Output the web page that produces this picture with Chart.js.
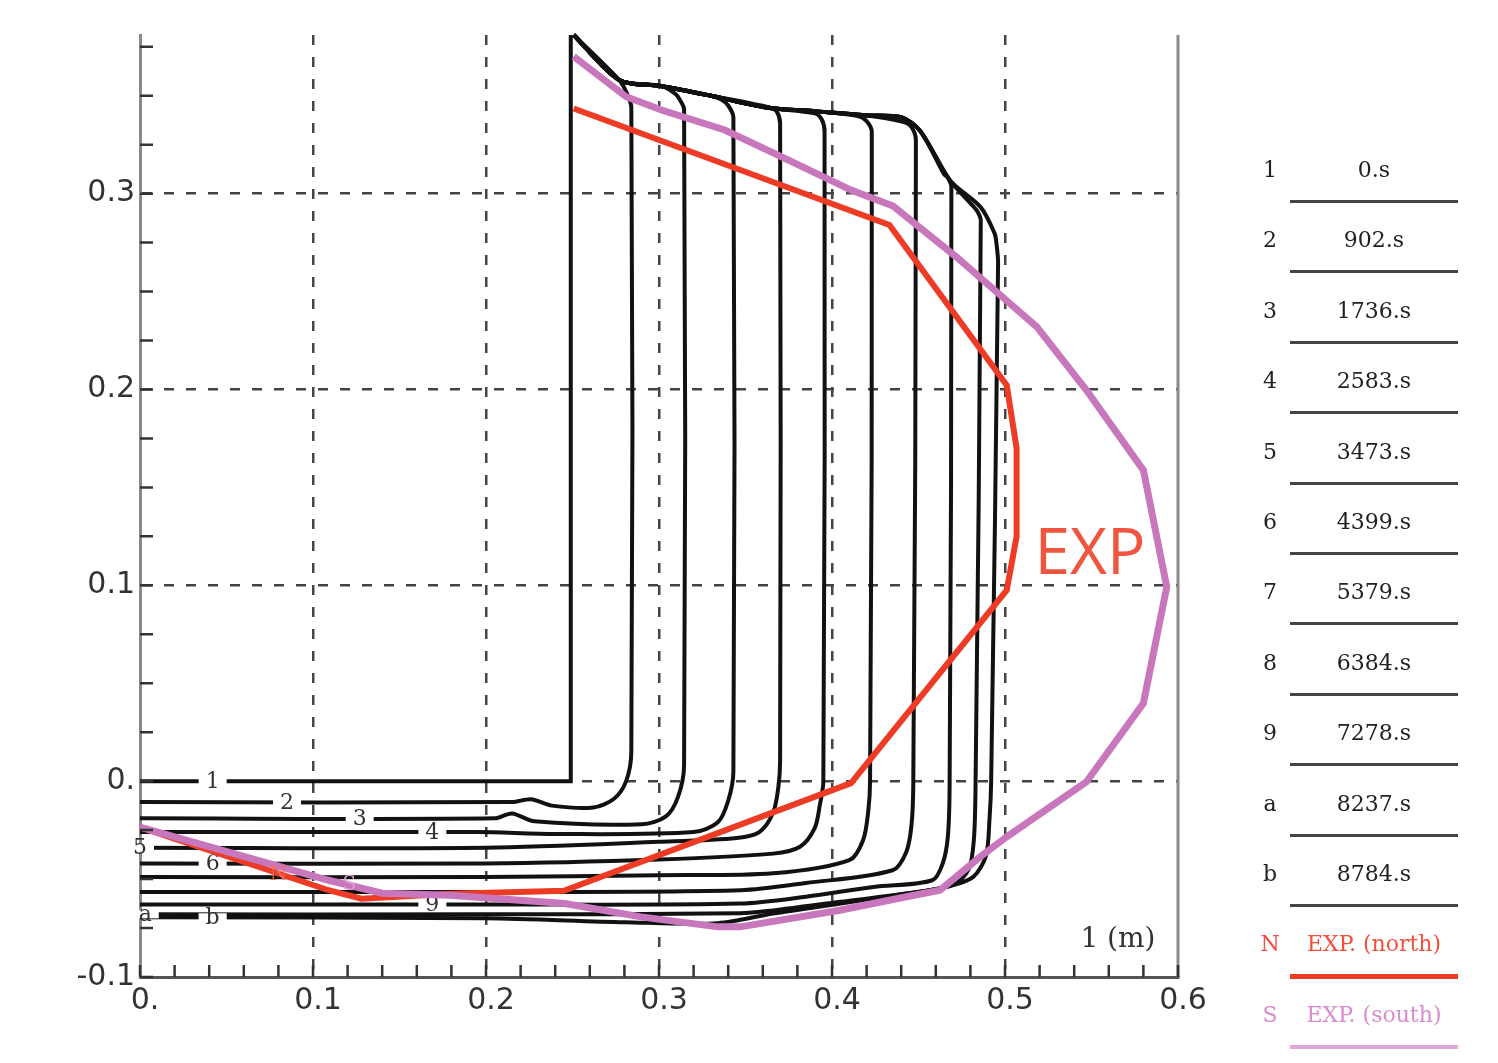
<!DOCTYPE html>
<html>
<head>
<meta charset="utf-8">
<script src="https://cdn.jsdelivr.net/npm/chart.js@4.4.0/dist/chart.umd.min.js"></script>
<style>
  html, body { margin: 0; padding: 0; background: #fff; }
  #wrap { position: relative; width: 1498px; height: 1063px; }
  .lg { position: absolute; font-family: "DejaVu Serif", serif; font-size: 22px; line-height: 24px; color: #222; white-space: nowrap; }
  .lg-id { width: 30px; text-align: center; }
  .lg-val { width: 168px; text-align: center; }
  .lg-line { position: absolute; height: 3px; background: #444; }
</style>
</head>
<body>
<div id="wrap">
  <canvas id="chart"></canvas>
  <div id="legend"></div>
</div>
<script>
// profile curves (x, y in m), one per time step
const curve1 = [[0,0],[0.249,0],[0.249,0.381]];
const curve2 = [[0,-0.0107],[0.215,-0.0107],[0.226,-0.0092],[0.238,-0.0125],[0.262,-0.0135],[0.274,-0.009],[0.281,0.0],[0.284,0.015],
  [0.284,0.344],[0.281,0.352],[0.277,0.358],[0.2507,0.381]];
const curve3 = [[0,-0.019],[0.205,-0.019],[0.215,-0.0165],[0.228,-0.0205],[0.29,-0.022],[0.304,-0.018],[0.311,-0.008],[0.3145,0.008],
  [0.3145,0.343],[0.312,0.348],[0.3095,0.351],[0.301,0.355],[0.277,0.358],[0.2507,0.381]];
const curve4 = [[0,-0.026],[0.195,-0.026],[0.24,-0.027],[0.32,-0.026],[0.334,-0.021],[0.340,-0.010],[0.343,0.005],
  [0.343,0.339],[0.340,0.345],[0.336,0.348],[0.330,0.350],[0.301,0.355],[0.277,0.358],[0.2507,0.381]];
const curve5 = [[0,-0.034],[0.2,-0.034],[0.3,-0.031],[0.345,-0.029],[0.358,-0.026],[0.366,-0.016],[0.369,-0.003],[0.370,0.01],
  [0.370,0.336],[0.368,0.342],[0.364,0.344],[0.330,0.350],[0.301,0.355],[0.277,0.358],[0.2507,0.381]];
const curve6 = [[0,-0.042],[0.2,-0.042],[0.3,-0.040],[0.366,-0.037],[0.3815,-0.0335],[0.390,-0.024],[0.393,-0.012],[0.395,0.0],
  [0.3957,0.332],[0.394,0.338],[0.39,0.341],[0.362,0.344],[0.330,0.350],[0.301,0.355],[0.277,0.358],[0.2507,0.381]];
const curve7 = [[0,-0.049],[0.2,-0.049],[0.3,-0.048],[0.366,-0.047],[0.41,-0.0403],[0.418,-0.030],[0.421,-0.015],[0.422,0.0],
  [0.423,0.3315],[0.420,0.337],[0.415,0.3396],[0.391,0.342],[0.362,0.344],[0.330,0.350],[0.301,0.355],[0.277,0.358],[0.2507,0.381]];
const curve8 = [[0,-0.0566],[0.2,-0.0566],[0.347,-0.0557],[0.385,-0.052],[0.435,-0.0455],[0.443,-0.036],[0.446,-0.022],[0.447,0.0],
  [0.4485,0.327],[0.446,0.334],[0.441,0.3367],[0.419,0.340],[0.391,0.342],[0.362,0.344],[0.330,0.350],[0.301,0.355],[0.277,0.358],[0.2507,0.381]];
const curve9 = [[0,-0.063],[0.2,-0.063],[0.347,-0.0625],[0.385,-0.059],[0.424,-0.054],[0.458,-0.0506],[0.464,-0.042],[0.467,-0.028],[0.468,0.0],
  [0.469,0.3035],[0.467,0.308],[0.4647,0.310],[0.451,0.332],[0.440,0.339],[0.419,0.340],[0.391,0.342],[0.362,0.344],[0.330,0.350],[0.301,0.355],[0.277,0.358],[0.2507,0.381]];
const curveA = [[0,-0.068],[0.2,-0.068],[0.347,-0.0675],[0.366,-0.066],[0.405,-0.0616],[0.443,-0.0574],[0.47,-0.053],[0.479,-0.045],[0.482,-0.03],[0.483,0.0],
  [0.486,0.2865],[0.484,0.291],[0.4819,0.2933],[0.468,0.307],[0.451,0.332],[0.440,0.339],[0.419,0.340],[0.391,0.342],[0.362,0.344],[0.330,0.350],[0.301,0.355],[0.277,0.358],[0.2507,0.381]];
const curveB = [[0,-0.0695],[0.2,-0.070],[0.28,-0.072],[0.334,-0.0725],[0.366,-0.0676],[0.405,-0.0625],[0.443,-0.0574],[0.466,-0.054],[0.4815,-0.049],[0.489,-0.038],[0.491,-0.02],[0.492,0.0],
  [0.496,0.2646],[0.495,0.275],[0.494,0.2797],[0.486,0.293],[0.468,0.307],[0.451,0.332],[0.440,0.339],[0.419,0.340],[0.391,0.342],[0.362,0.344],[0.330,0.350],[0.301,0.355],[0.277,0.358],[0.2507,0.381]];

// measured profiles
const expNorth = [[0,-0.0235],[0.109,-0.0557],[0.128,-0.060],[0.18,-0.0575],[0.245,-0.056],[0.411,-0.001],[0.501,0.0975],
  [0.5067,0.125],[0.5067,0.17],[0.501,0.2022],[0.4332,0.284],[0.2507,0.3435]];
const expSouth = [[0,-0.0235],[0.109,-0.0506],[0.14,-0.0572],[0.179,-0.0582],[0.2455,-0.0625],[0.2896,-0.0693],[0.334,-0.0744],[0.347,-0.0744],
  [0.4046,-0.0659],[0.443,-0.059],[0.4624,-0.0557],[0.4855,-0.0387],[0.501,-0.0284],[0.547,-0.0004],[0.58,0.0398],[0.5935,0.0992],
  [0.58,0.1588],[0.547,0.1997],[0.5184,0.232],[0.4717,0.2678],[0.4353,0.2937],[0.411,0.3018],[0.3703,0.319],[0.338,0.3325],
  [0.3014,0.3427],[0.281,0.3495],[0.2507,0.370]];

const curves = [curve1, curve2, curve3, curve4, curve5, curve6, curve7, curve8, curve9, curveA, curveB];
const curveIds = ["1","2","3","4","5","6","7","8","9","a","b"];
const timeLabels = ["0.s","902.s","1736.s","2583.s","3473.s","4399.s","5379.s","6384.s","7278.s","8237.s","8784.s"];
const curveLabelX = [0.042, 0.085, 0.127, 0.169, 0.0, 0.042, null, null, 0.169, 0.003, 0.042];
const expIds = ["N", "S"];
const expLabels = ["EXP. (north)", "EXP. (south)"];

const xTicks = [0, 0.1, 0.2, 0.3, 0.4, 0.5, 0.6];
const yTicks = [-0.1, 0, 0.1, 0.2, 0.3];

const RED = "#ee3b26";
const PINK = "#c877bd";

const fmt = v => (v === 0 ? "0." : v.toFixed(1));

const datasets = [
  { data: expSouth.map(([x, y]) => ({ x, y })), borderColor: PINK, borderWidth: 7, order: 0, tension: 0 },
  { data: expNorth.map(([x, y]) => ({ x, y })), borderColor: RED, borderWidth: 6, order: 0, tension: 0 },
  ...curves.map((c, i) => ({
    data: c.map(([x, y]) => ({ x, y })), borderColor: "#111", borderWidth: 4, order: 1,
    tension: i === 0 ? 0 : 0.3 // the initial profile has a sharp corner
  }))
].map(d => Object.assign(d, { showLine: true, pointRadius: 0, fill: false, clip: false }));

const decor = {
  id: "decor",
  beforeDatasetDraw(chart, args) {
    if (args.index !== 1) return; // red drawn right after the black curves
    const { ctx, scales: { x, y } } = chart;
    ctx.save();
    ctx.font = '22px "DejaVu Serif"';
    ctx.textAlign = "center";
    ctx.textBaseline = "middle";
    curves.forEach((pts, i) => {
      const lx = curveLabelX[i];
      if (lx === null) return;
      const px = x.getPixelForValue(lx), py = y.getPixelForValue(pts[0][1]);
      const w = ctx.measureText(curveIds[i]).width + 14;
      ctx.fillStyle = "#fff";
      ctx.fillRect(px - w / 2, py - 4, w, 8);
      ctx.fillStyle = "#333";
      ctx.fillText(curveIds[i], px, py + 1);
    });
    ctx.restore();
  },
  afterDraw(chart) {
    const { ctx, chartArea: a, scales: { x, y } } = chart;
    ctx.save();
    // right frame
    ctx.strokeStyle = "#8a8a8a";
    ctx.lineWidth = 3;
    ctx.beginPath();
    ctx.moveTo(a.right, a.top);
    ctx.lineTo(a.right, a.bottom);
    ctx.stroke();
    // small inner ticks
    ctx.strokeStyle = "#333";
    ctx.lineWidth = 2.5;
    ctx.beginPath();
    for (let i = 0; i <= 30; i++) {
      const px = x.getPixelForValue(i * 0.02);
      ctx.moveTo(px, a.bottom);
      ctx.lineTo(px, a.bottom - 12);
    }
    for (let i = 0; i <= 19; i++) {
      const py = y.getPixelForValue(-0.1 + i * 0.025);
      ctx.moveTo(a.left, py);
      ctx.lineTo(a.left + 13, py);
    }
    ctx.stroke();
    // texts
    ctx.fillStyle = "#f0553f";
    ctx.font = '64px "Open Sans"';
    ctx.textAlign = "left";
    ctx.textBaseline = "alphabetic";
    ctx.fillText("EXP", x.getPixelForValue(0.517), y.getPixelForValue(0.106));
    ctx.fillStyle = "#333";
    ctx.font = '28px "DejaVu Serif"';
    ctx.textAlign = "right";
    ctx.textBaseline = "middle";
    ctx.fillText("1 (m)", x.getPixelForValue(0.587), y.getPixelForValue(-0.081));
    ctx.font = '20px "DejaVu Serif"';
    ctx.textAlign = "center";
    ctx.fillStyle = "#f26a5a";
    ctx.fillText("N", x.getPixelForValue(0.080), y.getPixelForValue(-0.048));
    ctx.fillStyle = "#e29ad8";
    ctx.fillText("S", x.getPixelForValue(0.121), y.getPixelForValue(-0.053));
    ctx.restore();
  }
};

new Chart(document.getElementById("chart"), {
  type: "scatter",
  data: { datasets },
  options: {
    responsive: true,
    maintainAspectRatio: false,
    animation: false,
    layout: { padding: { top: 35, right: 320, left: 0, bottom: 0 } },
    plugins: { legend: { display: false }, tooltip: { enabled: false } },
    scales: {
      x: {
        type: "linear", min: 0, max: 0.6,
        afterBuildTicks: s => { s.ticks = xTicks.map(v => ({ value: v })); },
        afterFit: s => { s.height = 86; },
        grid: {
          color: c => (c.tick && (c.tick.value === 0 || c.tick.value === 0.6)) ? "rgba(0,0,0,0)" : "#444",
          lineWidth: 2.5, drawTicks: false
        },
        border: { color: "#555", width: 3, dash: [10, 12] },
        ticks: {
          callback: v => fmt(v), color: "#333", padding: 6, labelOffset: 5,
          font: { family: "DejaVu Sans", size: 30 }, maxRotation: 0, autoSkip: false
        }
      },
      y: {
        type: "linear", min: -0.1, max: 0.381,
        afterBuildTicks: s => { s.ticks = yTicks.map(v => ({ value: v })); },
        afterFit: s => { s.width = 140; },
        grid: {
          color: c => (c.tick && c.tick.value === -0.1) ? "rgba(0,0,0,0)" : "#444",
          lineWidth: 2.5, drawTicks: false
        },
        border: { color: "#8a8a8a", width: 3, dash: [10, 12] },
        ticks: {
          callback: v => fmt(v), color: "#333", padding: 5,
          font: { family: "DejaVu Sans", size: 30 }, autoSkip: false
        }
      }
    }
  },
  plugins: [decor]
});

// legend table on the right
const legend = document.getElementById("legend");
const rows = curveIds.map((id, i) => ({ id, text: timeLabels[i], color: "#222", line: "#444", h: 3 }))
  .concat(expIds.map((id, i) => ({ id, text: expLabels[i], color: i === 0 ? "#f0503c" : "#d88ccf", line: i === 0 ? RED : "#e0a6d8", h: i === 0 ? 5 : 4 })));
rows.forEach((r, i) => {
  const cy = 170 + i * 70.4;
  const idEl = document.createElement("div");
  idEl.className = "lg lg-id";
  idEl.style.left = "1255px";
  idEl.style.top = (cy - 12) + "px";
  idEl.style.color = r.color;
  idEl.textContent = r.id;
  const valEl = document.createElement("div");
  valEl.className = "lg lg-val";
  valEl.style.left = "1290px";
  valEl.style.top = (cy - 12) + "px";
  valEl.style.color = r.color;
  valEl.textContent = r.text;
  const ln = document.createElement("div");
  ln.className = "lg-line";
  ln.style.left = "1290px";
  ln.style.width = "168px";
  ln.style.top = (cy + 30) + "px";
  ln.style.height = r.h + "px";
  ln.style.background = r.line;
  legend.append(idEl, valEl, ln);
});
</script>
</body>
</html>
